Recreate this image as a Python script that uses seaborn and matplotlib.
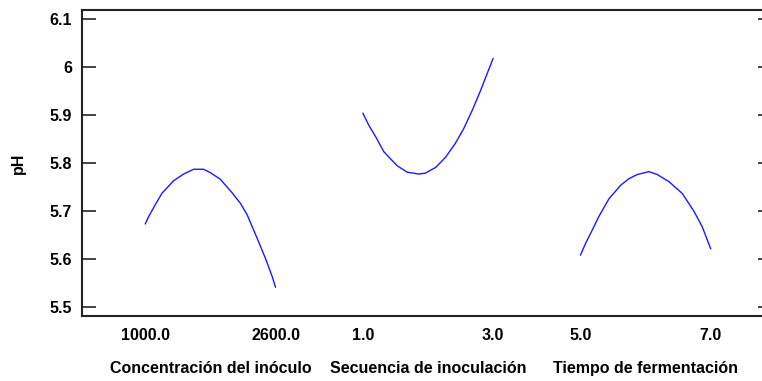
import pandas as pd
import matplotlib.pyplot as plt
import matplotlib.transforms as mtransforms
import seaborn as sns

# Factor names and their low/high levels
factors = ["Concentración del inóculo", "Secuencia de inoculación", "Tiempo de fermentación"]
low_levels = [1000.0, 1.0, 5.0]
high_levels = [2600.0, 3.0, 7.0]

# Curves (factor value, pH)
conc_x = [1000, 1041, 1123, 1206, 1348, 1471, 1594, 1717, 1800, 1923,
          2067, 2169, 2252, 2375, 2477, 2560, 2600]
conc_ph = [5.673, 5.688, 5.713, 5.737, 5.763, 5.777, 5.787, 5.787, 5.780, 5.766,
           5.738, 5.716, 5.692, 5.643, 5.601, 5.563, 5.541]

sec_x = [1.0, 1.09, 1.20, 1.32, 1.43, 1.53, 1.68, 1.86, 1.96, 2.12,
         2.27, 2.42, 2.55, 2.68, 2.81, 2.91, 3.0]
sec_ph = [5.904, 5.879, 5.854, 5.824, 5.808, 5.794, 5.781, 5.777, 5.779, 5.791,
          5.812, 5.841, 5.872, 5.910, 5.952, 5.987, 6.018]

tiempo_x = [5.0, 5.08, 5.18, 5.28, 5.44, 5.62, 5.74, 5.87, 6.05, 6.18,
            6.36, 6.56, 6.74, 6.87, 7.0]
tiempo_ph = [5.608, 5.633, 5.660, 5.688, 5.726, 5.754, 5.767, 5.776, 5.782, 5.776,
             5.761, 5.737, 5.700, 5.667, 5.621]

y_ticks = [5.5, 5.6, 5.7, 5.8, 5.9, 6.0, 6.1]
y_tick_labels = ["5.5", "5.6", "5.7", "5.8", "5.9", "6", "6.1"]

sns.set_theme(style="white")
plt.rcParams['font.family'] = ['Liberation Sans', 'DejaVu Sans']
plt.rcParams['font.weight'] = 'bold'
plt.rcParams['text.color'] = 'black'
plt.rcParams['xtick.color'] = 'black'
plt.rcParams['ytick.color'] = 'black'

# each factor gets its own slot on a shared x axis
offsets = [0.0, 1.67, 3.34]
curves = [(conc_x, conc_ph), (sec_x, sec_ph), (tiempo_x, tiempo_ph)]

rows = []
for i, (xs, ys) in enumerate(curves):
    for x, y in zip(xs, ys):
        pos = (x - low_levels[i]) / (high_levels[i] - low_levels[i]) + offsets[i]
        rows.append({"factor": factors[i], "pos": pos, "pH": y})
df = pd.DataFrame(rows)

fig = plt.figure(figsize=(7.62, 3.81), dpi=100)
ax = fig.add_axes([82 / 762, 65 / 381, 690 / 762, 306 / 381])

sns.lineplot(data=df, x="pos", y="pH", units="factor", estimator=None,
             color="#1a1aff", linewidth=1.0, ax=ax, sort=True)

ax.set_xlim(-0.485, 4.81)
ax.set_ylim(5.4813, 6.1188)

# x ticks: low/high of each factor
tick_pos = []
tick_labels = []
for i in range(3):
    tick_pos += [offsets[i], offsets[i] + 1]
    tick_labels += [f"{low_levels[i]:.1f}", f"{high_levels[i]:.1f}"]
ax.set_xticks(tick_pos)
ax.set_xticklabels(tick_labels, fontsize=11.5, fontweight='bold')
ax.tick_params(axis='x', length=0, pad=9)

ax.set_yticks(y_ticks)
ax.set_yticklabels(y_tick_labels, fontsize=11.5, fontweight='bold')
ax.tick_params(axis='y', direction='in', length=10, width=1.2, pad=7,
               left=True, right=True, color='#222222')

for side in ['left', 'bottom', 'top', 'right']:
    ax.spines[side].set_linewidth(1.5)
    ax.spines[side].set_color('#222222')

ax.set_xlabel("")
ax.set_ylabel("")

# factor names under the tick labels
trans = mtransforms.blended_transform_factory(ax.transData, ax.transAxes)
for i in range(3):
    ax.text(offsets[i] + 0.5, -0.17, factors[i], transform=trans,
            ha='center', va='center', fontsize=11.5, fontweight='bold')

fig.text(18 / 762, 1 - 163 / 381, "pH", rotation=90, ha='center', va='center',
         fontsize=11.5, fontweight='bold')

plt.savefig("out.png", dpi=100)
